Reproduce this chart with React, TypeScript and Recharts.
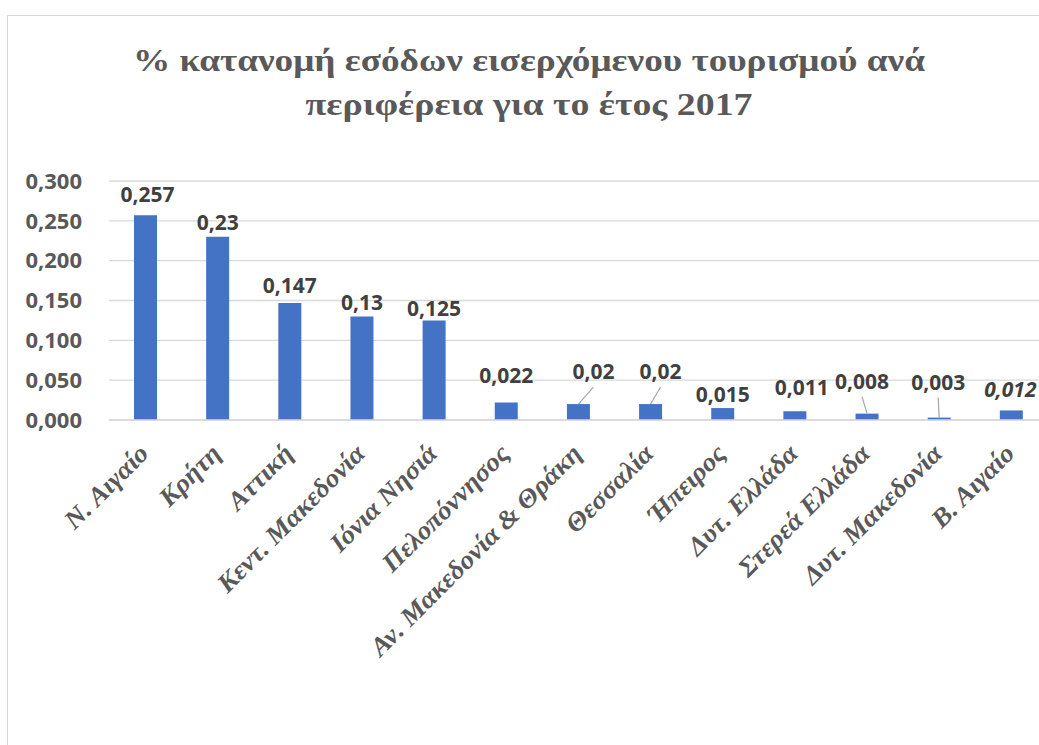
import { Bar, BarChart, CartesianGrid, LabelList, XAxis, YAxis } from 'recharts'

const regions = [
    'Ν. Αιγαίο',
    'Κρήτη',
    'Αττική',
    'Κεντ. Μακεδονία',
    'Ιόνια Νησιά',
    'Πελοπόννησος',
    'Αν. Μακεδονία & Θράκη',
    'Θεσσαλία',
    'Ήπειρος',
    'Δυτ. Ελλάδα',
    'Στερεά Ελλάδα',
    'Δυτ. Μακεδονία',
    'Β. Αιγαίο',
]
const shares = [0.257, 0.23, 0.147, 0.13, 0.125, 0.022, 0.02, 0.02, 0.015, 0.011, 0.008, 0.003, 0.012]
const yTicks = [0, 0.05, 0.1, 0.15, 0.2, 0.25, 0.3]
const titleLines = ['% κατανομή εσόδων εισερχόμενου τουρισμού ανά', 'περιφέρεια για το έτος 2017']
// rendered width of each title line in the original
const titleWidths = [792, 447]

// label placement relative to bar top centre: [dx, dy, leader line]
const labelPlacement: [number, number, boolean][] = [
    [2, -21, false],
    [0, -15, false],
    [0, -18, false],
    [0, -14, false],
    [0, -12, false],
    [0, -27, false],
    [15, -33, true],
    [10, -33, true],
    [0, -14, false],
    [7, -24, false],
    [-5, -33, true],
    [-1, -36, true],
    [-1, -21, false],
]

const data = regions.map((name, i) => ({ name, share: shares[i] }))

const gray = '#595959'
const sans = '"Open Sans", "Liberation Sans", sans-serif'
const serif = '"Liberation Serif", "Times New Roman", serif'

const fmt = (v: number) => String(v).replace('.', ',')

function RegionTick(props: any) {
    const { x, y, payload } = props
    return (
        <text
            transform={`translate(${x + 5}, ${y + 35}) rotate(-45) scale(1.06, 1)`}
            textAnchor="end"
            fill={gray}
            fontFamily={serif}
            fontWeight="bold"
            fontStyle="italic"
            fontSize={26}
        >
            {payload.value}
        </text>
    )
}

function ShareLabel(props: any) {
    const { x, y, width, index, value } = props
    const [dx, dy, leader] = labelPlacement[index] ?? [0, -16, false]
    const cx = x + width / 2
    const lx = cx + dx
    const ly = y + dy
    return (
        <g>
            {leader && (
                <line x1={cx} y1={y} x2={lx} y2={ly + 16} stroke="#a6a6a6" strokeWidth={1.2} />
            )}
            <text
                x={lx}
                y={ly}
                textAnchor="middle"
                dominantBaseline="central"
                fill="#404040"
                fontFamily={sans}
                fontWeight="bold"
                fontStyle={index === shares.length - 1 ? 'italic' : 'normal'}
                fontSize={21}
            >
                {fmt(value)}
            </text>
        </g>
    )
}

export default function App() {
    return (
        <div
            style={{
                position: 'absolute',
                left: 0,
                top: 0,
                width: 1039,
                height: 745,
                overflow: 'hidden',
                background: '#fff',
            }}
        >
            <div
                style={{
                    position: 'absolute',
                    left: 7,
                    top: 15,
                    width: 1045,
                    height: 780,
                    border: '1px solid #d9d9d9',
                    boxSizing: 'border-box',
                }}
            />
            <svg
                width={1039}
                height={130}
                style={{ position: 'absolute', left: 0, top: 0 }}
            >
                {titleLines.map((line, i) => (
                    <text
                        key={line}
                        x={529}
                        y={71 + i * 44}
                        textAnchor="middle"
                        textLength={titleWidths[i]}
                        lengthAdjust="spacingAndGlyphs"
                        fill={gray}
                        fontFamily={serif}
                        fontWeight="bold"
                        fontSize={31}
                    >
                        {line}
                    </text>
                ))}
            </svg>
            <div style={{ position: 'absolute', left: 0, top: 0 }}>
                <BarChart
                    width={1060}
                    height={745}
                    data={data}
                    margin={{ top: 181, right: 13, left: 0, bottom: 0 }}
                >
                    <CartesianGrid vertical={false} stroke="#d9d9d9" strokeWidth={1.3} />
                    <XAxis
                        dataKey="name"
                        interval={0}
                        height={325}
                        tickSize={0}
                        tickMargin={0}
                        axisLine={{ stroke: '#d9d9d9', strokeWidth: 1.3 }}
                        tickLine={false}
                        tick={<RegionTick />}
                    />
                    <YAxis
                        domain={[0, 0.3]}
                        ticks={yTicks}
                        width={109}
                        tickSize={0}
                        tickMargin={27}
                        axisLine={false}
                        tickLine={false}
                        tickFormatter={(v: number) => v.toFixed(3).replace('.', ',')}
                        tick={{ fill: gray, fontFamily: sans, fontWeight: 'bold', fontSize: 22 }}
                    />
                    <Bar dataKey="share" fill="#4472C4" barSize={23} isAnimationActive={false}>
                        <LabelList dataKey="share" content={<ShareLabel />} />
                    </Bar>
                </BarChart>
            </div>
        </div>
    )
}
